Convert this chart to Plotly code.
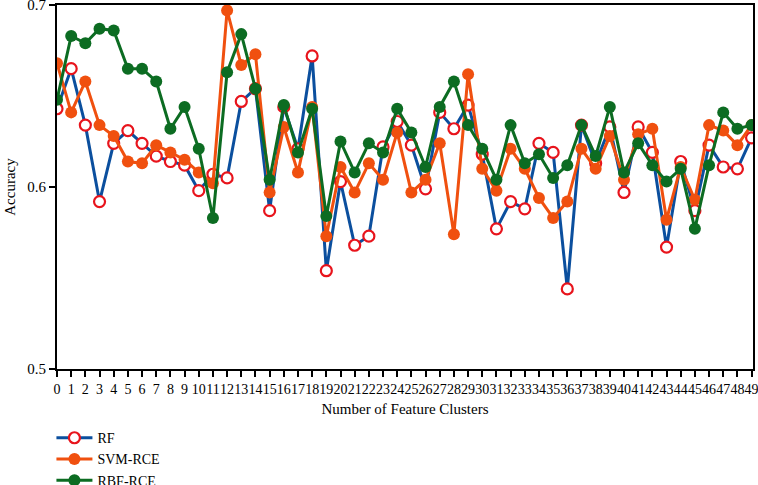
import plotly.graph_objects as go

clusters = list(range(50))

rf = [0.643, 0.665, 0.634, 0.592, 0.624, 0.631, 0.624, 0.617, 0.614, 0.612,
      0.598, 0.607, 0.605, 0.647, 0.654, 0.587, 0.644, 0.621, 0.672, 0.554,
      0.603, 0.568, 0.573, 0.622, 0.636, 0.623, 0.599, 0.641, 0.632, 0.645,
      0.618, 0.577, 0.592, 0.588, 0.624, 0.619, 0.544, 0.634, 0.613, 0.633,
      0.597, 0.633, 0.619, 0.567, 0.614, 0.587, 0.623, 0.611, 0.610, 0.627]

svm_rce = [0.668, 0.641, 0.658, 0.634, 0.628, 0.614, 0.613, 0.623, 0.619, 0.615,
           0.608, 0.602, 0.697, 0.667, 0.673, 0.597, 0.633, 0.608, 0.644, 0.573,
           0.611, 0.597, 0.613, 0.604, 0.630, 0.597, 0.604, 0.624, 0.574, 0.662,
           0.610, 0.598, 0.621, 0.610, 0.594, 0.583, 0.592, 0.621, 0.610, 0.628,
           0.604, 0.629, 0.632, 0.582, 0.611, 0.593, 0.634, 0.631, 0.623, 0.634]

rbf_rce = [0.648, 0.683, 0.679, 0.687, 0.686, 0.665, 0.665, 0.658, 0.632, 0.644,
           0.621, 0.583, 0.663, 0.684, 0.654, 0.604, 0.645, 0.619, 0.643, 0.584,
           0.625, 0.608, 0.624, 0.619, 0.643, 0.630, 0.611, 0.644, 0.658, 0.634,
           0.621, 0.604, 0.634, 0.613, 0.618, 0.605, 0.612, 0.634, 0.617, 0.644,
           0.608, 0.624, 0.612, 0.603, 0.610, 0.577, 0.612, 0.641, 0.632, 0.634]

tick_labels = [str(c) for c in clusters]

BLUE = "#0b4f9e"
ORANGE = "#f0500f"
GREEN = "#0c6c22"
RED = "#e8141c"

fig = go.Figure()
fig.add_trace(go.Scatter(
    x=clusters, y=rf, name="RF", mode="lines+markers",
    line=dict(color=BLUE, width=3),
    marker=dict(symbol="circle", size=11, color="white",
                line=dict(color=RED, width=2.2)),
))
fig.add_trace(go.Scatter(
    x=clusters, y=svm_rce, name="SVM-RCE", mode="lines+markers",
    line=dict(color=ORANGE, width=3),
    marker=dict(symbol="circle", size=12, color=ORANGE),
))
fig.add_trace(go.Scatter(
    x=clusters, y=rbf_rce, name="RBF-RCE", mode="lines+markers",
    line=dict(color=GREEN, width=3),
    marker=dict(symbol="circle", size=12, color=GREEN),
))

font_family = "Liberation Serif, DejaVu Serif, serif"

fig.update_layout(
    width=758, height=485,
    margin=dict(l=57, r=5, t=5, b=116, autoexpand=False),
    paper_bgcolor="white", plot_bgcolor="white",
    font=dict(family=font_family, size=14, color="black"),
    showlegend=True,
    legend=dict(
        x=-0.008, xanchor="left", y=-0.146, yanchor="top",
        orientation="v", font=dict(size=14, family=font_family),
        bgcolor="rgba(0,0,0,0)", tracegroupgap=0, itemwidth=36,
    ),
    xaxis=dict(
        range=[0, 49.1], tickmode="array", tickvals=clusters, ticktext=tick_labels,
        tickangle=0, automargin=False, ticklabeloverflow="allow",
        showline=True, linecolor="black", linewidth=2, mirror=True,
        ticks="outside", ticklen=6, tickwidth=1.5, tickcolor="black",
        showgrid=False, zeroline=False,
        tickfont=dict(size=14, family=font_family),
        title=dict(text="Number of Feature Clusters", font=dict(size=15, family=font_family), standoff=8),
    ),
    yaxis=dict(
        range=[0.5, 0.7], tickvals=[0.5, 0.6, 0.7], ticktext=["0.5", "0.6", "0.7"],
        automargin=False, ticklabeloverflow="allow",
        showline=True, linecolor="black", linewidth=2, mirror=True,
        ticks="outside", ticklen=6, tickwidth=1.5, tickcolor="black",
        showgrid=False, zeroline=False,
        tickfont=dict(size=15, family=font_family),
        title=dict(text="Accuracy", font=dict(size=15, family=font_family), standoff=8),
    ),
)

fig.write_html(
    "out.html",
    config={"displayModeBar": False},
    post_script="document.body.style.margin='0';document.body.style.overflow='hidden';",
)
